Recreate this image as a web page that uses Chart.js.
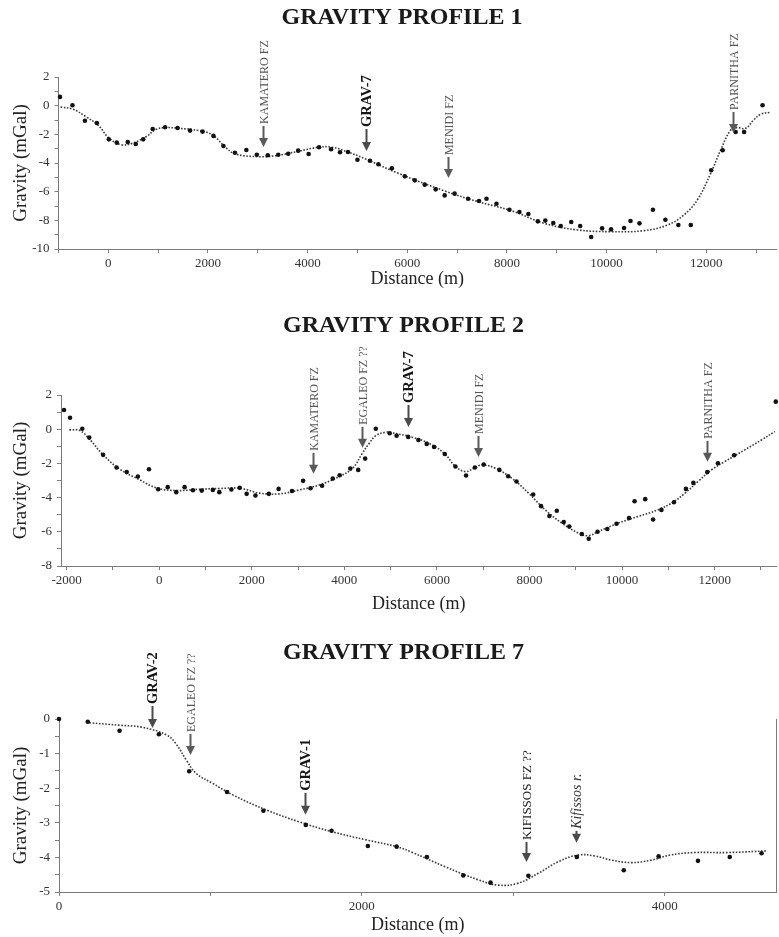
<!DOCTYPE html>
<html><head><meta charset="utf-8">
<script src="https://cdn.jsdelivr.net/npm/chart.js@4.4.1/dist/chart.umd.min.js"></script>
<style>
html,body{margin:0;padding:0;background:#fff;}
#wrap{position:relative;width:779px;height:937px;overflow:hidden;background:#fff;}
canvas{position:absolute;left:0;}
</style></head><body>
<div id="wrap">
<canvas id="c1" width="779" height="300" style="top:0px"></canvas>
<canvas id="c2" width="779" height="320" style="top:300px"></canvas>
<canvas id="c3" width="779" height="317" style="top:620px"></canvas>
</div>
<script>
// ---------- PROFILE 1 ----------
const p1Title = 'GRAVITY PROFILE 1';
const p1Dist = [-970,-720,-470,-230,10,170,390,550,700,890,1140,1390,1640,1890,2110,2310,2540,2770,2980,3200,3410,3610,3810,4020,4230,4470,4650,4810,5000,5250,5420,5690,5950,6150,6350,6570,6750,6950,7220,7440,7590,7790,8050,8250,8430,8620,8770,8930,9080,9290,9470,9690,9910,10090,10350,10480,10660,10930,11180,11440,11690,12100,12330,12590,12760,13130];
const p1Grav = [0.61,0.03,-1.05,-1.21,-2.35,-2.58,-2.53,-2.67,-2.35,-1.63,-1.51,-1.56,-1.74,-1.81,-2.11,-2.81,-3.28,-3.09,-3.42,-3.46,-3.42,-3.35,-3.14,-3.37,-2.90,-3.04,-3.25,-3.23,-3.77,-3.84,-4.09,-4.37,-4.93,-5.21,-5.51,-5.84,-6.26,-6.14,-6.49,-6.65,-6.49,-6.84,-7.26,-7.42,-7.56,-8.07,-8.02,-8.19,-8.40,-8.12,-8.40,-9.16,-8.56,-8.63,-8.53,-8.05,-8.21,-7.26,-7.96,-8.33,-8.33,-4.51,-3.11,-1.84,-1.84,0.03];
const p1FitDist = [-960,-710,-450,-210,20,260,490,760,960,1160,1410,1820,2090,2350,2550,3020,3350,3820,4220,4490,4820,5150,5820,6750,7420,8090,8750,9420,10090,10750,11220,11550,11820,12090,12290,12490,12620,12790,12950,13090,13290];
const p1FitGrav = [-0.09,-0.25,-0.77,-1.35,-2.28,-2.72,-2.62,-2.16,-1.65,-1.53,-1.58,-1.74,-2.04,-2.90,-3.37,-3.56,-3.49,-3.18,-2.90,-2.90,-3.25,-3.70,-4.72,-5.95,-6.70,-7.33,-8.21,-8.67,-8.79,-8.72,-8.33,-7.63,-6.58,-4.72,-3.09,-1.70,-1.53,-1.58,-1.00,-0.60,-0.46];
const p1AnnLabel = ['KAMATERO FZ','GRAV-7','MENIDI FZ','PARNITHA FZ'];
const p1AnnDist = [3110,5180,6810,12540];
const p1AnnTip = [-2.88,-3.16,-5.05,-1.90];
const p1XTicks = [-1000,0,1000,2000,3000,4000,5000,6000,7000,8000,9000,10000,11000,12000,13000];
const p1YTicks = [2,1,0,-1,-2,-3,-4,-5,-6,-7,-8,-9,-10];

// ---------- PROFILE 2 ----------
const p2Title = 'GRAVITY PROFILE 2';
const p2Dist = [-2055,-1925,-1660,-1510,-1210,-920,-700,-460,-220,-20,185,370,550,730,920,1160,1300,1560,1740,1890,2080,2370,2580,2870,3110,3270,3520,3750,3900,4130,4300,4450,4680,4980,5130,5380,5600,5780,5940,6170,6400,6630,6820,7010,7350,7540,7720,8080,8250,8430,8590,8740,8860,9130,9280,9470,9680,9880,10150,10270,10500,10670,10850,11120,11380,11540,11840,12070,12420,13320];
const p2Grav = [1.12,0.67,0.03,-0.49,-1.50,-2.24,-2.50,-2.77,-2.34,-3.51,-3.39,-3.68,-3.39,-3.57,-3.59,-3.55,-3.68,-3.53,-3.43,-3.78,-3.88,-3.78,-3.49,-3.61,-3.02,-3.45,-3.31,-2.89,-2.69,-2.30,-2.38,-1.72,0.03,-0.24,-0.38,-0.45,-0.63,-0.86,-1.04,-1.45,-2.18,-2.71,-2.24,-2.07,-2.38,-2.75,-3.06,-3.82,-4.50,-5.08,-4.77,-5.43,-5.69,-6.13,-6.41,-6.00,-5.84,-5.53,-5.20,-4.21,-4.09,-5.28,-4.72,-4.27,-3.49,-3.14,-2.51,-1.99,-1.52,1.61];
const p2FitDist = [-1940,-1710,-1490,-1210,-850,-420,-60,370,870,1300,1740,2170,2600,3030,3460,3890,4180,4390,4540,4680,4900,5000,5470,5900,6190,6400,6620,6800,6980,7260,7620,7980,8340,8700,9060,9270,9490,9920,10340,10770,11070,11360,11640,11930,12220,12650,13010,13300];
const p2FitGrav = [-0.04,-0.08,-0.63,-1.50,-2.34,-2.96,-3.43,-3.59,-3.51,-3.47,-3.45,-3.74,-3.78,-3.55,-3.26,-2.77,-2.28,-1.40,-0.82,-0.38,-0.17,-0.20,-0.47,-0.92,-1.50,-2.18,-2.48,-2.28,-2.09,-2.28,-2.87,-3.74,-4.72,-5.49,-6.08,-6.23,-5.98,-5.49,-5.11,-4.72,-4.32,-3.74,-3.06,-2.38,-1.89,-1.21,-0.63,-0.14];
const p2AnnLabel = ['KAMATERO FZ','EGALEO FZ ??','GRAV-7','MENIDI FZ','PARNITHA FZ'];
const p2AnnDist = [3315,4380,5380,6880,11840];
const p2AnnTip = [-2.61,-1.09,0.13,-1.62,-1.91];
const p2XTicks = [-2000,-1000,0,1000,2000,3000,4000,5000,6000,7000,8000,9000,10000,11000,12000,13000];
const p2YTicks = [2,1,0,-1,-2,-3,-4,-5,-6,-7,-8];

// ---------- PROFILE 7 ----------
const p3Title = 'GRAVITY PROFILE 7';
const p3Dist = [0,190,400,660,860,1110,1350,1630,1800,2040,2230,2430,2670,2850,3100,3420,3730,3960,4220,4430,4640];
const p3Grav = [0,-0.08,-0.34,-0.44,-1.51,-2.11,-2.65,-3.06,-3.23,-3.67,-3.69,-3.99,-4.52,-4.73,-4.53,-3.99,-4.37,-3.97,-4.10,-3.99,-3.88];
const p3FitDist = [200,400,550,710,770,840,905,1015,1150,1370,1585,1805,2025,2230,2330,2550,2770,2900,3030,3165,3300,3430,3540,3650,3780,3910,4040,4195,4415,4680];
const p3FitGrav = [-0.11,-0.18,-0.24,-0.46,-0.70,-1.18,-1.57,-1.86,-2.20,-2.63,-2.97,-3.26,-3.49,-3.69,-3.85,-4.27,-4.65,-4.80,-4.75,-4.46,-4.12,-3.93,-3.96,-4.08,-4.15,-4.08,-3.93,-3.86,-3.86,-3.81];
const p3AnnLabel = ['GRAV-2','EGALEO FZ ??','GRAV-1','KIFISSOS FZ ??','Kifissos r.'];
const p3AnnDist = [612,862,1625,3083,3413];
const p3AnnTip = [-0.26,-1.04,-2.77,-4.13,-3.58];
const p3XTicks = [0,1000,2000,3000,4000];
const p3YTicks = [0,-0.5,-1,-1.5,-2,-2.5,-3,-3.5,-4,-4.5,-5];

// ---------- drawing ----------
const SERIF = "'Liberation Serif','DejaVu Serif','Times New Roman',serif";
const zip = (xs, ys) => xs.map((x, i) => ({x: x, y: ys[i]}));

function annStyle(label) {
  if (/^GRAV/.test(label)) return {font: 'bold 14.5px ' + SERIF, color: '#151515', arrow: '#4a4a4a', len: 22};
  if (/^KIFISSOS/.test(label)) return {font: '13px ' + SERIF, color: '#222', arrow: '#4a4a4a', len: 20};
  if (/^Kifissos/.test(label)) return {font: 'italic 14px ' + SERIF, color: '#333', arrow: '#4a4a4a', len: 12};
  return {font: '12px ' + SERIF, color: '#555', arrow: '#5a5a5a', len: 21};
}

function arrowPlugin(labels, dists, tips) {
  return {
    id: 'faultArrows',
    afterDatasetsDraw(chart) {
      const ctx = chart.ctx, xs = chart.scales.x, ys = chart.scales.y;
      labels.forEach((label, i) => {
        const st = annStyle(label);
        const px = Math.round(xs.getPixelForValue(dists[i])) + 0.5;
        const tip = ys.getPixelForValue(tips[i]);
        ctx.save();
        ctx.strokeStyle = st.arrow; ctx.fillStyle = st.arrow; ctx.lineWidth = 2;
        ctx.beginPath(); ctx.moveTo(px, tip - st.len); ctx.lineTo(px, tip - 7); ctx.stroke();
        ctx.beginPath(); ctx.moveTo(px - 4.5, tip - 9); ctx.lineTo(px + 4.5, tip - 9); ctx.lineTo(px, tip); ctx.closePath(); ctx.fill();
        ctx.translate(px, tip - st.len - 2);
        ctx.rotate(-Math.PI / 2);
        ctx.font = st.font; ctx.fillStyle = st.color;
        ctx.textAlign = 'left'; ctx.textBaseline = 'middle';
        ctx.fillText(label, 0, 1);
        ctx.restore();
      });
    }
  };
}

const PAD_LEFT = 28;

function makeChart(id, cfg) {
  const tickFont = {family: SERIF, size: 13};
  const scales = {
    x: {
      type: 'linear', position: 'bottom', min: cfg.xMin, max: cfg.xMax,
      afterBuildTicks: s => { s.ticks = cfg.xTicks.map(v => ({value: v})); },
      afterFit: s => { s.height = cfg.xAxisH; },
      grid: {display: true, drawOnChartArea: false, drawTicks: true, tickLength: 4, color: '#808080'},
      border: {display: true, color: '#7a7a7a', width: 1},
      ticks: {autoSkip: false, maxRotation: 0, minRotation: 0, padding: 3, font: tickFont, color: '#333',
        callback: v => (v % 2000 === 0 ? String(v) : '')},
      title: {display: true, text: 'Distance (m)', font: {family: SERIF, size: 18}, color: '#222', padding: {top: 0, bottom: cfg.xTitlePad}}
    },
    y: {
      type: 'linear', position: 'left', min: cfg.yMin, max: cfg.yMax,
      afterBuildTicks: s => { s.ticks = cfg.yTicks.map(v => ({value: v})); },
      afterFit: s => { s.width = cfg.chartLeft - PAD_LEFT; },
      grid: {display: true, drawOnChartArea: false, drawTicks: true, tickLength: 4, color: '#808080'},
      border: {display: true, color: '#7a7a7a', width: 1},
      ticks: {autoSkip: false, padding: 5, font: tickFont, color: '#333',
        callback: v => (Math.abs(v % cfg.yLabelStep) < 1e-9 ? String(v) : '')},
      title: {display: true, text: 'Gravity (mGal)', font: {family: SERIF, size: 19}, color: '#222', padding: {top: -18.5, bottom: 0}}
    }
  };
  if (cfg.rightBorder) {
    scales.y2 = {
      type: 'linear', position: 'right', min: cfg.yMin, max: cfg.yMax,
      afterFit: s => { s.width = 1; },
      grid: {display: false, drawOnChartArea: false},
      border: {display: true, color: '#7a7a7a', width: 1},
      ticks: {display: false}
    };
  }
  return new Chart(document.getElementById(id), {
    data: {
      datasets: [
        {type: 'line', label: 'fit', data: zip(cfg.fitX, cfg.fitY), borderColor: '#3a3a3a', borderWidth: 1.6,
          borderDash: [1.6, 1.6], pointRadius: 0, tension: 0.4, fill: false, order: 2},
        {type: 'scatter', label: 'observed', data: zip(cfg.ptX, cfg.ptY), backgroundColor: '#111', borderColor: '#111',
          borderWidth: 0, pointRadius: 2.3, pointHoverRadius: 2.3, clip: false, order: 1}
      ]
    },
    options: {
      responsive: false, animation: false, devicePixelRatio: 1,
      layout: {padding: {left: PAD_LEFT, right: cfg.padRight, top: 0, bottom: 0}},
      plugins: {
        legend: {display: false}, tooltip: {enabled: false},
        title: {display: true, text: cfg.title, font: {family: SERIF, size: 24, weight: 'bold'}, color: '#1a1a1a',
          padding: {top: cfg.tTop, bottom: cfg.tBot}}
      },
      scales: scales
    },
    plugins: [arrowPlugin(cfg.annLabel, cfg.annX, cfg.annTip)]
  });
}

makeChart('c1', {title: p1Title, ptX: p1Dist, ptY: p1Grav, fitX: p1FitDist, fitY: p1FitGrav,
  annLabel: p1AnnLabel, annX: p1AnnDist, annTip: p1AnnTip, xTicks: p1XTicks, yTicks: p1YTicks,
  xMin: -1000, xMax: 13400, yMin: -10, yMax: 2, yLabelStep: 2,
  padRight: 3, chartLeft: 58.5, xAxisH: 51, xTitlePad: 10, tTop: 3.6, tBot: 44.6, rightBorder: false});

makeChart('c2', {title: p2Title, ptX: p2Dist, ptY: p2Grav, fitX: p2FitDist, fitY: p2FitGrav,
  annLabel: p2AnnLabel, annX: p2AnnDist, annTip: p2AnnTip, xTicks: p2XTicks, yTicks: p2YTicks,
  xMin: -2120, xMax: 13340, yMin: -8, yMax: 2, yLabelStep: 2,
  padRight: 0, chartLeft: 61, xAxisH: 54, xTitlePad: 5, tTop: 11.6, tBot: 54.6, rightBorder: false});

makeChart('c3', {title: p3Title, ptX: p3Dist, ptY: p3Grav, fitX: p3FitDist, fitY: p3FitGrav,
  annLabel: p3AnnLabel, annX: p3AnnDist, annTip: p3AnnTip, xTicks: p3XTicks, yTicks: p3YTicks,
  xMin: 0, xMax: 4740, yMin: -5, yMax: 0, yLabelStep: 1,
  padRight: 0, chartLeft: 59, xAxisH: 45, xTitlePad: 0.5, tTop: 18.6, tBot: 51.6, rightBorder: true});
</script>
</body></html>
